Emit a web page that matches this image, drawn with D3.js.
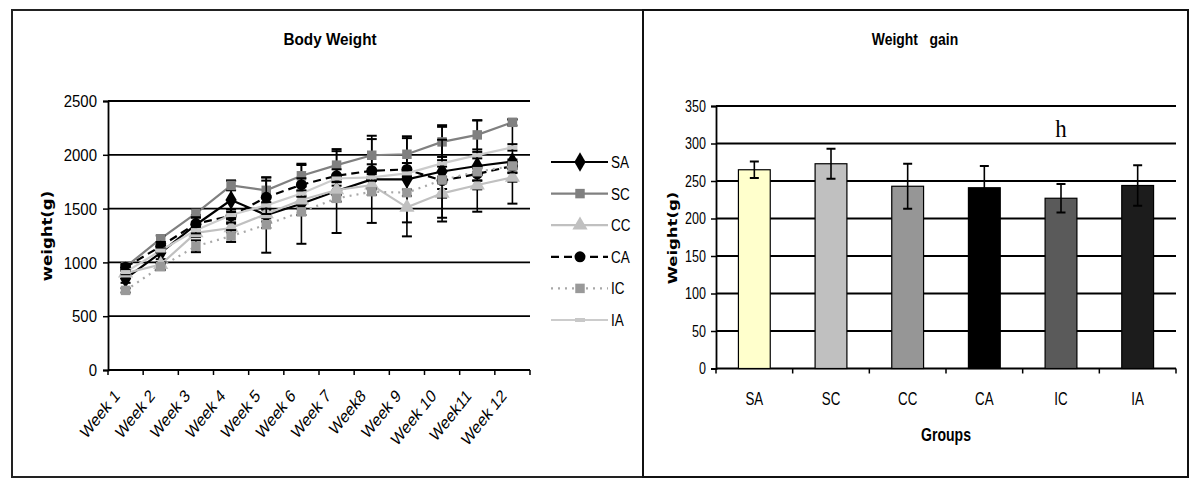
<!DOCTYPE html>
<html><head><meta charset="utf-8">
<script src="https://cdn.jsdelivr.net/npm/d3@7"></script>
<style>body{margin:0;background:#fff}</style>
</head><body>
<svg id="c" width="1200" height="486"></svg>
<script>
// ---------- data ----------
const weeks = ["Week 1","Week 2","Week 3","Week 4","Week 5","Week 6","Week 7","Week8","Week 9","Week 10","Week11","Week 12"];
const seriesNames = ["SA","SC","CC","CA","IC","IA"];
const SA = [850, 1090, 1350, 1580, 1440, 1545, 1663, 1772, 1772, 1845, 1896, 1936];
const SC = [958, 1220, 1455, 1715, 1670, 1805, 1904, 1996, 2005, 2120, 2185, 2302];
const CC = [900, 980, 1275, 1320, 1450, 1580, 1673, 1719, 1512, 1642, 1719, 1790];
const CA = [955, 1150, 1360, 1432, 1605, 1722, 1805, 1852, 1864, 1760, 1822, 1896];
const IC = [740, 960, 1150, 1245, 1350, 1470, 1595, 1657, 1648, 1766, 1843, 1896];
const IA = [910, 1110, 1300, 1440, 1530, 1640, 1780, 1790, 1827, 1920, 1997, 2069];
const SA_err = [40, 60, 90, 180, 350, 372, 390, 405, 400, 430, 425, 390];
const SC_err = [20, 30, 40, 45, 120, 100, 130, 150, 150, 140, 135, 30];
const CC_err = [20, 20, 40, 40, 40, 40, 40, 40, 270, 40, 40, 40];
const CA_err = [30, 40, 60, 60, 155, 60, 60, 60, 60, 380, 60, 60];
const IC_err = [20, 30, 55, 55, 30, 30, 30, 30, 30, 30, 30, 30];
const IA_err = [20, 20, 30, 30, 30, 30, 30, 30, 30, 30, 30, 30];
const bodyTicks = [0, 500, 1000, 1500, 2000, 2500];

const groups = ["SA","SC","CC","CA","IC","IA"];
const gainValues = [265, 273, 243, 241, 227, 244];
const gainErrors = [11, 20, 30, 29, 19, 27];
const gainTicks = [0, 50, 100, 150, 200, 250, 300, 350];

// ---------- setup ----------
const svg = d3.select("#c");
const SANS = "'Liberation Sans', Arial, sans-serif";
const WIDE = "'DejaVu Sans', Verdana, sans-serif";
const SERIF = "'Liberation Serif', 'Times New Roman', serif";

// text helper: condensed look via horizontal scale
function txt(parent, px, py, str, o) {
  o = o || {};
  const sx = o.sx || 1, rot = o.rot || 0;
  return parent.append("text")
    .attr("transform", `translate(${px},${py}) scale(${sx},1)` + (rot ? ` rotate(${rot})` : ""))
    .attr("text-anchor", o.anchor || "start")
    .attr("font-family", o.family || SANS)
    .attr("font-weight", o.bold ? "bold" : "normal")
    .attr("font-size", o.size || 16)
    .attr("dy", o.dy || null)
    .attr("xml:space", "preserve")
    .attr("fill", "#000")
    .text(str);
}

// panel borders
svg.append("rect").attr("x",12).attr("y",10).attr("width",631).attr("height",467)
  .attr("fill","none").attr("stroke","#222").attr("stroke-width",2);
svg.append("rect").attr("x",643).attr("y",10).attr("width",545).attr("height",467)
  .attr("fill","none").attr("stroke","#111").attr("stroke-width",2);

// ---------- left chart ----------
const L = svg.append("g");
const x = d3.scaleBand().domain(weeks).range([108, 530]).padding(0);
const y = d3.scaleLinear().domain([0, 2500]).range([370, 101]);

txt(L, 330, 45, "Body Weight", {anchor:"middle", bold:true, size:17, sx:0.9});

L.selectAll("line.grid").data(bodyTicks.filter(d=>d>0)).join("line").attr("class","grid")
  .attr("x1",x.range()[0]).attr("x2",x.range()[1]).attr("y1",d=>y(d)).attr("y2",d=>y(d))
  .attr("stroke","#000").attr("stroke-width",1.8);

const yAx = L.append("g").attr("transform",`translate(${x.range()[0]},0)`)
  .call(d3.axisLeft(y).tickValues(bodyTicks).tickSize(5).tickFormat(""));
yAx.select(".domain").attr("stroke","#000").attr("stroke-width",1.8);
yAx.selectAll(".tick line").attr("stroke","#000").attr("stroke-width",1.5);
bodyTicks.forEach(t => txt(L, x.range()[0]-11, y(t), String(t), {anchor:"end", size:17, sx:0.88, dy:"0.36em"}));

// x axis line + boundary ticks
L.append("line").attr("x1",x.range()[0]).attr("x2",x.range()[1]).attr("y1",y(0)).attr("y2",y(0))
  .attr("stroke","#000").attr("stroke-width",1.8);
const bounds = d3.range(weeks.length+1).map(i => x.range()[0] + i*x.step());
L.selectAll("line.xt").data(bounds).join("line").attr("class","xt")
  .attr("x1",d=>d).attr("x2",d=>d).attr("y1",y(0)).attr("y2",y(0)+5)
  .attr("stroke","#000").attr("stroke-width",1.5);
weeks.forEach(w => txt(L, x(w)+x.bandwidth()/2-5, y(0)+27, w, {anchor:"end", size:18, sx:0.8, rot:-45}));

txt(L, 52, 236, "weight(g)", {anchor:"middle", family:WIDE, bold:true, size:16.5, sx:0.85, rot:-90});

const series = [
  {name:"SA", v:SA, e:SA_err, stroke:"#000", dash:null, fill:"#000", sym:d3.symbolDiamond, size:110},
  {name:"SC", v:SC, e:SC_err, stroke:"#808080", dash:null, fill:"#808080", sym:d3.symbolSquare, size:90},
  {name:"CC", v:CC, e:CC_err, stroke:"#c0c0c0", dash:null, fill:"#c0c0c0", sym:d3.symbolTriangle, size:100},
  {name:"CA", v:CA, e:CA_err, stroke:"#000", dash:"8,5", fill:"#000", sym:d3.symbolCircle, size:95},
  {name:"IC", v:IC, e:IC_err, stroke:"#a8a8a8", dash:"2,5", fill:"#999", sym:d3.symbolSquare, size:90},
  {name:"IA", v:IA, e:IA_err, stroke:"#cccccc", dash:null, fill:"#c8c8c8", sym:"dash", size:0}
];
const cx = i => x(weeks[i]) + x.bandwidth()/2;
const line = d3.line().x((d,i)=>cx(i)).y(d=>y(d));

function drawMarker(g, s, px, py) {
  if (s.sym === "dash") {
    g.append("rect").attr("x",px-5).attr("y",py-2).attr("width",10).attr("height",4).attr("fill",s.fill);
  } else {
    g.append("path").attr("d",d3.symbol().type(s.sym).size(s.size)())
      .attr("transform",`translate(${px},${py})`).attr("fill",s.fill);
  }
}

series.forEach(s => {
  const g = L.append("g");
  g.append("path").datum(s.v).attr("d",line).attr("fill","none")
    .attr("stroke",s.stroke).attr("stroke-width",2.2).attr("stroke-dasharray",s.dash);
  s.v.forEach((v,i) => {
    const e = s.e[i];
    if (e > 0) {
      g.append("line").attr("x1",cx(i)).attr("x2",cx(i)).attr("y1",y(v-e)).attr("y2",y(v+e))
        .attr("stroke","#000").attr("stroke-width",1.6);
      [v-e, v+e].forEach(t => g.append("line").attr("x1",cx(i)-5).attr("x2",cx(i)+5)
        .attr("y1",y(t)).attr("y2",y(t)).attr("stroke","#000").attr("stroke-width",2));
    }
  });
  s.v.forEach((v,i) => drawMarker(g, s, cx(i), y(v)));
});

// legend
series.forEach((s,i) => {
  const ly = 162 + i*31.6;
  const g = L.append("g");
  g.append("line").attr("x1",551).attr("x2",608).attr("y1",ly).attr("y2",ly)
    .attr("stroke",s.stroke).attr("stroke-width",2.2).attr("stroke-dasharray",s.dash);
  drawMarker(g, s, 580, ly);
  txt(g, 611, ly+6, s.name, {size:16.5, sx:0.82});
});

// ---------- right chart ----------
const R = svg.append("g");
const xb = d3.scaleBand().domain(groups).range([716, 1176]).padding(0);
const yb = d3.scaleLinear().domain([0, 350]).range([368.5, 106]);
const barColors = ["#ffffcc","#c0c0c0","#969696","#000000","#5a5a5a","#1c1c1c"];

txt(R, 915, 45, "Weight   gain", {anchor:"middle", bold:true, size:17, sx:0.82});

R.selectAll("line.grid").data(gainTicks.filter(d=>d>0)).join("line").attr("class","grid")
  .attr("x1",xb.range()[0]).attr("x2",xb.range()[1]).attr("y1",d=>yb(d)).attr("y2",d=>yb(d))
  .attr("stroke","#000").attr("stroke-width",1.8);

const ybAx = R.append("g").attr("transform",`translate(${xb.range()[0]},0)`)
  .call(d3.axisLeft(yb).tickValues(gainTicks).tickSize(5).tickFormat(""));
ybAx.select(".domain").attr("stroke","#000").attr("stroke-width",1.8);
ybAx.selectAll(".tick line").attr("stroke","#000").attr("stroke-width",1.5);
gainTicks.forEach(t => txt(R, xb.range()[0]-10, yb(t), String(t), {anchor:"end", size:16.5, sx:0.76, dy:"0.36em"}));

R.append("line").attr("x1",xb.range()[0]).attr("x2",xb.range()[1]).attr("y1",yb(0)).attr("y2",yb(0))
  .attr("stroke","#000").attr("stroke-width",1.8);
const bb = d3.range(groups.length+1).map(i => xb.range()[0] + i*xb.step());
R.selectAll("line.xt").data(bb).join("line").attr("class","xt")
  .attr("x1",d=>d).attr("x2",d=>d).attr("y1",yb(0)).attr("y2",yb(0)+5)
  .attr("stroke","#000").attr("stroke-width",1.5);

const bw = xb.bandwidth()*0.415;
const bcx = d => xb(d) + xb.bandwidth()/2;
R.selectAll("rect.bar").data(groups).join("rect").attr("class","bar")
  .attr("x",d=>bcx(d)-bw/2).attr("width",bw)
  .attr("y",(d,i)=>yb(gainValues[i])).attr("height",(d,i)=>yb(0)-yb(gainValues[i]))
  .attr("fill",(d,i)=>barColors[i]).attr("stroke","#000").attr("stroke-width",1.2);

groups.forEach((d,i) => {
  const v = gainValues[i], e = gainErrors[i];
  R.append("line").attr("x1",bcx(d)).attr("x2",bcx(d)).attr("y1",yb(v-e)).attr("y2",yb(v+e))
    .attr("stroke","#000").attr("stroke-width",1.6);
  [v-e, v+e].forEach(t => R.append("line").attr("x1",bcx(d)-4.5).attr("x2",bcx(d)+4.5)
    .attr("y1",yb(t)).attr("y2",yb(t)).attr("stroke","#000").attr("stroke-width",2));
});

groups.forEach(g => txt(R, bcx(g), yb(0)+36, g, {anchor:"middle", size:18, sx:0.74}));

txt(R, 946, 441, "Groups", {anchor:"middle", bold:true, size:18, sx:0.78});

txt(R, 677, 238, "Weight(g)", {anchor:"middle", family:WIDE, bold:true, size:16.5, sx:0.78, rot:-90});

txt(R, bcx("IC"), 137, "h", {anchor:"middle", family:SERIF, size:26, sx:0.88});
</script>
</body></html>
